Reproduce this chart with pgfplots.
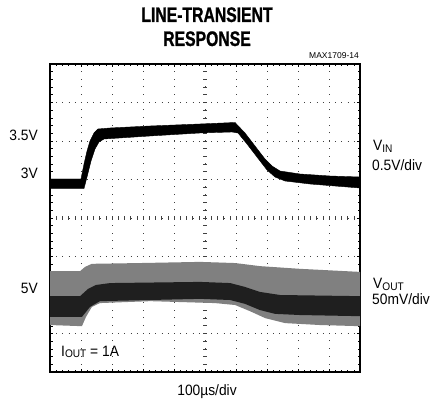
\documentclass[border=0pt]{standalone}
\usepackage{fontspec}
\setmainfont{Liberation Sans}
\newfontfamily\titlefont{Liberation Sans Bold}[FakeStretch=0.75,FakeBold=1]
\newfontfamily\labfont{Liberation Sans}[FakeStretch=0.92]
\usepackage{pgfplots}
\pgfplotsset{compat=1.18}
\newcommand{\lab}{\labfont\fontsize{15}{17}\selectfont}
\newcommand{\sub}[1]{\raisebox{-1.5pt}{\labfont\fontsize{11}{12}\selectfont #1}}
\begin{document}
\begin{tikzpicture}
% centre cross-hair ticks (under the traces)
\foreach \i in {0,...,50} { \draw[black!75, line width=0.6pt] ({\i*6.2pt},{154pt-2pt}) -- ++(0,4pt); }
\foreach \i in {0,...,40} { \draw[black!75, line width=0.6pt] ({155pt-2pt},{\i*7.7pt}) -- ++(4pt,0); }
\begin{axis}[
  at={(0,0)}, anchor=south west, scale only axis,
  width=310pt, height=308pt,
  xmin=0, xmax=10, ymin=0, ymax=8,
  xtick={0,...,10}, ytick={0,...,8},
  minor x tick num=4, minor y tick num=4,
  xticklabels={}, yticklabels={},
  tick align=inside, major tick length=3pt, minor tick length=2.5pt,
  every tick/.style={black, line width=0.6pt},
  grid=major,
  major x grid style={black!75, line width=0.8pt, dash pattern=on 0.8pt off 6.9pt},
  major y grid style={black!75, line width=0.8pt, dash pattern=on 0.8pt off 5.4pt},
  axis line style={line width=1.5pt},
]
% VOUT outer (light, noisy) band
\addplot[fill=black!50, draw=none] coordinates {
 (0,2.62) (0.97,2.62) (1.13,2.73) (1.35,2.81) (2.9,2.83) (4.84,2.86) (5.97,2.83)
 (6.77,2.75) (8.06,2.68) (10,2.60)
 (10,1.19) (8.71,1.22) (7.58,1.27) (6.94,1.40) (6.45,1.58) (5.97,1.74) (5.32,1.79)
 (3.23,1.84) (1.61,1.79) (1.35,1.69) (1.16,1.43) (1.03,1.19) (0,1.22)
} -- cycle;
% VOUT dark core band
\addplot[fill=black!88, draw=none] coordinates {
 (0,1.97) (0.97,1.97) (1.23,2.16) (1.48,2.26) (1.94,2.31) (4.84,2.34) (5.81,2.31)
 (6.29,2.21) (6.77,2.08) (7.42,2.00) (10,1.97)
 (10,1.45) (8.06,1.48) (7.26,1.51) (6.77,1.61) (6.29,1.77) (5.81,1.87) (4.84,1.90)
 (1.61,1.84) (1.29,1.69) (1.03,1.43) (0,1.43)
} -- cycle;
% VIN band
\addplot[fill=black, draw=black, line width=0.4pt] coordinates {
 (0,5.013) (1.0,5.013) (1.097,5.403) (1.194,5.740) (1.290,6.000) (1.419,6.208)
 (1.548,6.312) (1.935,6.338) (3.226,6.390) (4.839,6.442) (5.968,6.481)
 (6.290,6.208) (6.613,5.870) (6.935,5.532) (7.161,5.351) (7.419,5.221)
 (8.065,5.143) (9.032,5.091) (10,5.065)
 (10,4.779) (8.387,4.883) (7.581,4.961) (7.258,5.065) (7.0,5.247) (6.677,5.584)
 (6.355,5.922) (6.065,6.208) (5.871,6.234) (4.839,6.208) (3.226,6.130)
 (1.742,6.052) (1.581,5.974) (1.452,5.792) (1.323,5.481) (1.194,5.065)
 (1.097,4.766) (0,4.766)
} -- cycle;
\end{axis}
% titles and labels
\node[anchor=base, inner sep=0] at (157pt,350pt) {\titlefont\fontsize{21}{24}\selectfont LINE-TRANSIENT};
\node[anchor=base, inner sep=0] at (157pt,326pt) {\titlefont\fontsize{21}{24}\selectfont RESPONSE};
\node[anchor=base east, inner sep=0] at (309pt,313pt) {\fontsize{8.5}{10}\selectfont MAX1709-14};
\node[anchor=base east, inner sep=0] at (-12pt,231pt) {\lab 3.5V};
\node[anchor=base east, inner sep=0] at (-12pt,193pt) {\lab 3V};
\node[anchor=base east, inner sep=0] at (-12pt,78pt) {\lab 5V};
\node[anchor=base west, inner sep=0] at (323pt,221pt) {\lab V\sub{IN}};
\node[anchor=base west, inner sep=0] at (322pt,201.5pt) {\lab 0.5V/div};
\node[anchor=base west, inner sep=0] at (323pt,83pt) {\lab V\sub{OUT}};
\node[anchor=base west, inner sep=0] at (322pt,67pt) {\lab 50mV/div};
\node[anchor=base west, inner sep=0] at (11pt,16pt) {\lab I\sub{OUT} = 1A};
\node[anchor=base, inner sep=0] at (157pt,-23pt) {\lab 100µs/div};
\pgfresetboundingbox
\path[use as bounding box] (-50pt,-34pt) rectangle (385pt,372pt);
\end{tikzpicture}
\end{document}
